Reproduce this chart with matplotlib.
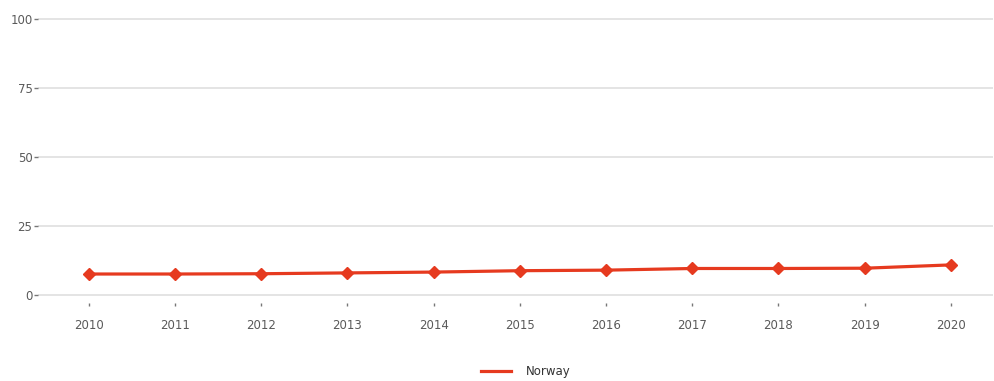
import matplotlib.pyplot as plt

years = [2010, 2011, 2012, 2013, 2014, 2015, 2016, 2017, 2018, 2019, 2020]
norway = [7.6, 7.6, 7.7, 8.0, 8.3, 8.8, 9.0, 9.6, 9.6, 9.7, 10.9]
y_ticks = [0, 25, 50, 75, 100]

red = "#e63a1f"
grey_text = "#5a5a5a"

fig = plt.figure(figsize=(9.95, 3.81), dpi=100)
ax = fig.add_axes([38 / 995, 0.204, (993 - 38) / 995, 0.7536])

ax.plot(years, norway, color=red, linewidth=2.3, marker="D", markersize=6,
        label="Norway", zorder=3)

ax.set_ylim(-3, 101)
ax.set_xlim(2009.41, 2020.49)
ax.set_yticks(y_ticks)
ax.set_xticks(years)
ax.grid(axis="y", color="#e2e2e2", linewidth=1.3)
ax.set_axisbelow(True)
for s in ax.spines.values():
    s.set_visible(False)
ax.tick_params(axis="y", length=3, width=1, color="#777777", pad=1,
               labelsize=8.5, labelcolor=grey_text)
ax.tick_params(axis="x", length=2, width=1, color="#777777", pad=9,
               labelsize=8.5, labelcolor=grey_text)

leg = fig.legend(loc="center", bbox_to_anchor=(0.528, 1 - 372 / 381), frameon=False,
                 fontsize=8.5, handlelength=2.6, handletextpad=1.2)
leg.legend_handles[0].set_marker("")
for t in leg.get_texts():
    t.set_color("#333333")

fig.savefig("out.png", dpi=100)
